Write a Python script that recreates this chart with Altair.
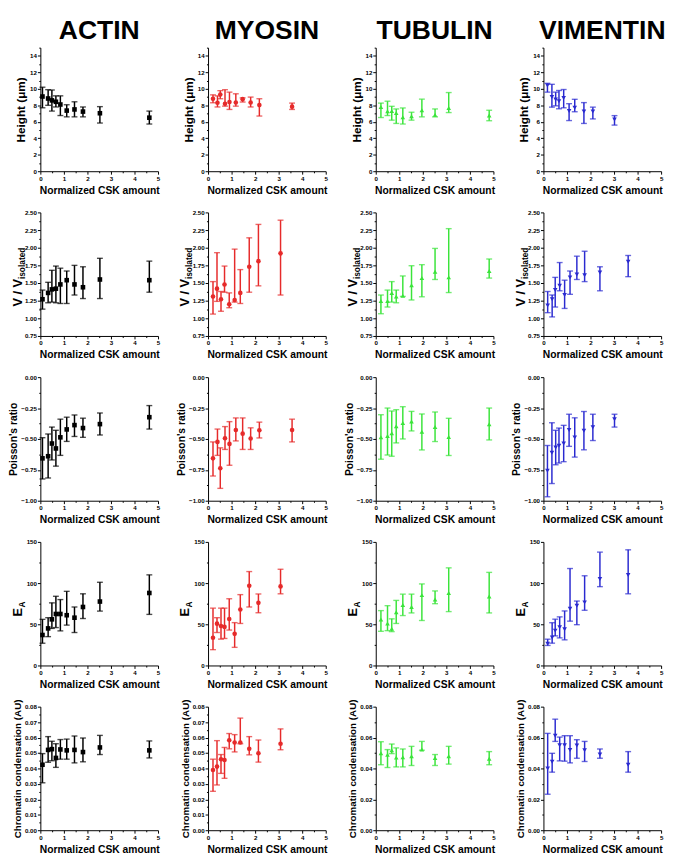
import altair as alt
import pandas as pd

# ---------------- data ----------------
PROTEINS = ["ACTIN", "MYOSIN", "TUBULIN", "VIMENTIN"]
COLORS = ["#000000", "#e62a2a", "#3ae43a", "#2a2ad0"]
SHAPES = ["square", "circle", "triangle-up", "triangle-down"]

ACTIN_X = [0.09, 0.33, 0.49, 0.66, 0.85, 1.12, 1.45, 1.81, 2.53, 4.63]
MYOSIN_X_A = [0.21, 0.40, 0.52, 0.72, 0.91, 1.18, 1.47, 1.81, 2.18, 3.57]
MYOSIN_X_B = [0.21, 0.38, 0.55, 0.70, 0.90, 1.13, 1.37, 1.75, 2.14, 3.08]
TUBULIN_X = [0.22, 0.50, 0.68, 0.87, 1.15, 1.52, 1.96, 2.52, 3.10, 4.82]
VIMENTIN_X_A = [0.17, 0.36, 0.52, 0.66, 0.86, 1.09, 1.33, 1.72, 2.10, 3.02]
VIMENTIN_X_B = [0.18, 0.37, 0.50, 0.69, 0.90, 1.13, 1.42, 1.75, 2.40, 3.60]

# Height (um)
ACTIN_HEIGHT = [9.07, 8.83, 8.60, 8.43, 8.10, 7.36, 7.50, 7.24, 7.04, 6.50]
ACTIN_HEIGHT_LO = [7.70, 8.00, 7.30, 7.80, 6.76, 6.60, 6.60, 6.60, 5.85, 5.73]
ACTIN_HEIGHT_HI = [10.20, 9.90, 9.86, 9.15, 9.15, 8.07, 8.43, 7.80, 7.84, 7.30]
MYOSIN_HEIGHT = [8.79, 8.31, 9.30, 8.20, 8.40, 8.35, 8.75, 8.35, 8.03, 7.84]
MYOSIN_HEIGHT_LO = [8.31, 7.80, 8.80, 7.90, 7.50, 7.90, 8.40, 7.80, 6.70, 7.50]
MYOSIN_HEIGHT_HI = [9.27, 9.15, 9.78, 9.90, 9.60, 9.40, 8.90, 9.00, 8.80, 8.27]
TUBULIN_HEIGHT = [7.80, 7.28, 7.32, 7.08, 6.56, 6.68, 7.40, 6.84, 7.68, 6.76]
TUBULIN_HEIGHT_LO = [6.52, 6.76, 6.20, 5.80, 5.73, 6.20, 6.60, 6.60, 7.12, 6.13]
TUBULIN_HEIGHT_HI = [8.27, 8.50, 7.88, 7.56, 7.68, 7.16, 8.75, 7.56, 9.55, 7.40]
VIMENTIN_HEIGHT = [10.40, 9.00, 8.70, 8.50, 8.90, 7.30, 7.70, 7.26, 7.26, 6.27]
VIMENTIN_HEIGHT_LO = [9.60, 7.78, 7.94, 7.58, 7.70, 6.15, 7.22, 5.80, 6.35, 5.60]
VIMENTIN_HEIGHT_HI = [10.67, 10.55, 9.60, 9.80, 9.92, 8.20, 8.73, 8.33, 7.78, 6.75]

# V / V isolated
ACTIN_V = [1.27, 1.36, 1.41, 1.42, 1.48, 1.54, 1.48, 1.44, 1.55, 1.54]
ACTIN_V_LO = [1.13, 1.22, 1.23, 1.22, 1.21, 1.21, 1.33, 1.28, 1.28, 1.37]
ACTIN_V_HI = [1.40, 1.51, 1.68, 1.74, 1.71, 1.67, 1.75, 1.73, 1.85, 1.81]
MYOSIN_V = [1.31, 1.42, 1.27, 1.48, 1.20, 1.26, 1.36, 1.73, 1.81, 1.92]
MYOSIN_V_LO = [1.06, 1.24, 1.10, 1.37, 1.15, 1.23, 1.21, 1.37, 1.46, 1.33]
MYOSIN_V_HI = [1.52, 1.93, 1.38, 1.74, 1.36, 1.98, 1.69, 2.14, 2.33, 2.39]
TUBULIN_V = [1.245, 1.245, 1.36, 1.31, 1.32, 1.47, 1.57, 1.66, 1.58, 1.67]
TUBULIN_V_LO = [1.065, 1.16, 1.23, 1.22, 1.31, 1.26, 1.305, 1.55, 1.365, 1.57]
TUBULIN_V_HI = [1.33, 1.40, 1.52, 1.40, 1.60, 1.745, 1.76, 1.99, 2.27, 1.84]
VIMENTIN_V = [1.18, 1.27, 1.40, 1.46, 1.33, 1.58, 1.62, 1.61, 1.65, 1.80]
VIMENTIN_V_LO = [1.08, 1.02, 1.16, 1.39, 1.14, 1.34, 1.55, 1.52, 1.39, 1.59]
VIMENTIN_V_HI = [1.38, 1.33, 1.58, 1.79, 1.54, 1.67, 1.88, 1.95, 1.73, 1.89]

# Poisson's ratio
ACTIN_POISSON = [-0.657, -0.640, -0.537, -0.577, -0.487, -0.423, -0.388, -0.412, -0.380, -0.324]
ACTIN_POISSON_LO = [-0.824, -0.816, -0.670, -0.720, -0.633, -0.520, -0.480, -0.487, -0.468, -0.420]
ACTIN_POISSON_HI = [-0.490, -0.460, -0.404, -0.430, -0.340, -0.324, -0.306, -0.332, -0.290, -0.230]
MYOSIN_POISSON = [-0.657, -0.524, -0.737, -0.495, -0.540, -0.428, -0.457, -0.497, -0.430, -0.428]
MYOSIN_POISSON_LO = [-0.800, -0.633, -0.900, -0.585, -0.713, -0.516, -0.585, -0.585, -0.492, -0.524]
MYOSIN_POISSON_HI = [-0.524, -0.420, -0.572, -0.400, -0.360, -0.330, -0.330, -0.410, -0.364, -0.340]
TUBULIN_POISSON = [-0.487, -0.476, -0.454, -0.398, -0.371, -0.358, -0.441, -0.403, -0.484, -0.382]
TUBULIN_POISSON_LO = [-0.664, -0.630, -0.640, -0.532, -0.500, -0.435, -0.589, -0.521, -0.634, -0.508]
TUBULIN_POISSON_HI = [-0.304, -0.250, -0.274, -0.263, -0.239, -0.277, -0.298, -0.282, -0.333, -0.250]
VIMENTIN_POISSON = [-0.757, -0.612, -0.570, -0.556, -0.537, -0.428, -0.489, -0.433, -0.406, -0.340]
VIMENTIN_POISSON_LO = [-0.968, -0.861, -0.709, -0.695, -0.684, -0.560, -0.647, -0.588, -0.513, -0.404]
VIMENTIN_POISSON_HI = [-0.553, -0.369, -0.430, -0.412, -0.390, -0.300, -0.329, -0.278, -0.300, -0.300]

# E_A
ACTIN_EA = [37.0, 45.0, 56.0, 62.5, 62.5, 61.0, 58.0, 71.0, 77.6, 88.0]
ACTIN_EA_LO = [27.0, 35.0, 45.0, 46.0, 42.0, 49.0, 40.0, 57.0, 66.0, 62.0]
ACTIN_EA_HI = [56.0, 58.0, 76.0, 84.0, 80.0, 90.0, 71.0, 87.0, 101.0, 110.0]
MYOSIN_EA = [33.6, 50.8, 48.0, 46.8, 56.4, 38.4, 68.0, 96.8, 76.0, 96.0]
MYOSIN_EA_LO = [19.2, 40.0, 32.0, 32.8, 43.0, 22.0, 51.0, 71.0, 64.0, 87.0]
MYOSIN_EA_HI = [69.6, 58.0, 69.6, 69.6, 81.0, 52.0, 86.0, 114.0, 86.8, 116.8]
TUBULIN_EA = [55.8, 51.0, 44.7, 64.6, 73.4, 71.0, 85.4, 80.2, 88.0, 83.8]
TUBULIN_EA_LO = [41.5, 42.3, 41.1, 51.0, 60.6, 63.8, 54.6, 75.0, 65.4, 63.8]
TUBULIN_EA_HI = [66.6, 72.6, 56.6, 79.0, 86.6, 86.6, 99.0, 90.5, 118.5, 113.0]
VIMENTIN_EA = [26.3, 33.9, 42.3, 46.3, 43.9, 69.0, 72.6, 76.6, 104.9, 109.7]
VIMENTIN_EA_LO = [24.3, 27.1, 35.9, 33.5, 31.1, 53.8, 49.5, 67.0, 95.7, 87.0]
VIMENTIN_EA_HI = [31.9, 51.9, 56.2, 59.0, 66.2, 117.7, 78.2, 108.9, 137.6, 140.4]

# Chromatin condensation (AU)
ACTIN_CHROM = [0.0424, 0.0520, 0.0525, 0.0468, 0.0523, 0.0517, 0.0520, 0.0506, 0.0536, 0.0517]
ACTIN_CHROM_LO = [0.0307, 0.0440, 0.0450, 0.0407, 0.0460, 0.0460, 0.0436, 0.0443, 0.0490, 0.0468]
ACTIN_CHROM_HI = [0.0496, 0.0606, 0.0576, 0.0560, 0.0587, 0.0590, 0.0610, 0.0597, 0.0614, 0.0578]
MYOSIN_CHROM = [0.0390, 0.0412, 0.0460, 0.0455, 0.0583, 0.0568, 0.0568, 0.0527, 0.0498, 0.0560]
MYOSIN_CHROM_LO = [0.0252, 0.0293, 0.0368, 0.0336, 0.0527, 0.0507, 0.0560, 0.0488, 0.0441, 0.0521]
MYOSIN_CHROM_HI = [0.0460, 0.0580, 0.0490, 0.0536, 0.0626, 0.0619, 0.0726, 0.0606, 0.0584, 0.0656]
TUBULIN_CHROM = [0.0498, 0.0488, 0.0518, 0.0470, 0.0473, 0.0479, 0.0522, 0.0468, 0.0479, 0.0462]
TUBULIN_CHROM_LO = [0.0424, 0.0406, 0.0496, 0.0410, 0.0410, 0.0419, 0.0518, 0.0419, 0.0428, 0.0424]
TUBULIN_CHROM_HI = [0.0573, 0.0522, 0.0558, 0.0533, 0.0526, 0.0543, 0.0575, 0.0490, 0.0543, 0.0509]
VIMENTIN_CHROM = [0.0400, 0.0443, 0.0612, 0.0550, 0.0550, 0.0520, 0.0548, 0.0518, 0.0490, 0.0424]
VIMENTIN_CHROM_LO = [0.0233, 0.0376, 0.0575, 0.0449, 0.0447, 0.0436, 0.0466, 0.0445, 0.0466, 0.0376]
VIMENTIN_CHROM_HI = [0.0627, 0.0498, 0.0719, 0.0603, 0.0612, 0.0612, 0.0586, 0.0575, 0.0526, 0.0509]

X_TITLE = "Normalized CSK amount"

# ---------------- layout / style ----------------
FONT = "Liberation Sans"
W, H = 120, 126


def ticks(lo, hi, step):
    n = int(round((hi - lo) / step))
    return [round(lo + i * step, 6) for i in range(n + 1)]


def is_major(step):
    return f"abs(datum.value/{step} - round(datum.value/{step})) < 0.001"


def make_axis(lo, hi, major, minor, fmt, title, title_size, title_pad=2):
    return alt.Axis(
        values=ticks(lo, hi, minor),
        labelExpr=f"{is_major(major)} ? format(datum.value, '{fmt}') : ''",
        tickSize={"condition": {"test": is_major(major), "value": 3}, "value": 1.6},
        labelOverlap=False,
        labelFlush=False,
        labelFont=FONT,
        labelFontSize=6.3,
        labelFontWeight="bold",
        labelPadding=1,
        title=title,
        titleFont=FONT,
        titleFontSize=title_size,
        titleFontWeight="bold",
        titlePadding=title_pad,
        grid=False,
    )


X_AXIS = make_axis(0, 5, 1, 0.5, "d", X_TITLE, 10.5, 4)

ROW_DEFS = [
    # key, domain, (major, minor) per column, format, title, title size
    ("HEIGHT", [0, 15], [(2, 1)] * 4, "d", "Height (μm)", 12),
    ("V", [0.75, 2.5], [(0.25, 0.125)] * 4, ".2f", "", 11),
    ("POISSON", [-1, 0], [(0.25, 0.125)] * 4, ".2f", "Poisson's ratio", 10.5),
    ("EA", [0, 150], [(50, 25)] * 4, "d", "", 11),
    ("CHROM", [0, 0.08], [(0.01, 0.005), (0.01, 0.005), (0.02, 0.01), (0.02, 0.01)],
     ".2f", "Chromatin condensation (AU)", 10),
]

X_SETS = {
    "ACTIN": {k: ACTIN_X for k in ["HEIGHT", "V", "POISSON", "EA", "CHROM"]},
    "MYOSIN": {"HEIGHT": MYOSIN_X_A, "POISSON": MYOSIN_X_A,
               "V": MYOSIN_X_B, "EA": MYOSIN_X_B, "CHROM": MYOSIN_X_B},
    "TUBULIN": {k: TUBULIN_X for k in ["HEIGHT", "V", "POISSON", "EA", "CHROM"]},
    "VIMENTIN": {"HEIGHT": VIMENTIN_X_A, "POISSON": VIMENTIN_X_A,
                 "V": VIMENTIN_X_B, "EA": VIMENTIN_X_B, "CHROM": VIMENTIN_X_B},
}


def text_layer(txt, x, y, size):
    return alt.Chart(pd.DataFrame({"t": [txt]})).mark_text(
        font=FONT, fontSize=size, fontWeight="bold", angle=270,
        align="left", baseline="alphabetic", color="black"
    ).encode(x=alt.value(x), y=alt.value(y), text="t:N")


def panel(ci, row):
    key, domain, steps, fmt, ytitle, ysize = row
    prot = PROTEINS[ci]
    g = globals()
    df = pd.DataFrame({
        "x": X_SETS[prot][key],
        "y": g[f"{prot}_{key}"],
        "lo": g[f"{prot}_{key}_LO"],
        "hi": g[f"{prot}_{key}_HI"],
    })
    major, minor = steps[ci]
    yaxis = make_axis(domain[0], domain[1], major, minor, fmt, ytitle, ysize)
    xs = alt.Scale(domain=[0, 5], nice=False, zero=False)
    ys = alt.Scale(domain=domain, nice=False, zero=False)
    color = COLORS[ci]
    base = alt.Chart(df)
    X = alt.X("x:Q", scale=xs, axis=X_AXIS)
    rule = base.mark_rule(color=color, strokeWidth=1.5).encode(
        x=X, y=alt.Y("lo:Q", scale=ys, axis=yaxis), y2="hi:Q")
    cap_lo = base.mark_tick(orient="horizontal", size=6, thickness=1.4, color=color).encode(
        x=X, y=alt.Y("lo:Q", scale=ys, axis=yaxis))
    cap_hi = base.mark_tick(orient="horizontal", size=6, thickness=1.4, color=color).encode(
        x=X, y=alt.Y("hi:Q", scale=ys, axis=yaxis))
    pts = base.mark_point(filled=True, shape=SHAPES[ci], size=22, opacity=1, color=color).encode(
        x=X, y=alt.Y("y:Q", scale=ys, axis=yaxis))
    layers = [rule, cap_lo, cap_hi, pts]
    if key == "V":
        layers += [text_layer("V / V", -19, 96, 13), text_layer("isolated", -16, 68, 8.5)]
    if key == "EA":
        layers += [text_layer("E", -19, 76, 13), text_layer("A", -16, 67, 8.5)]
    ch = alt.layer(*layers).properties(width=W, height=H)
    if key == "HEIGHT":
        ch = ch.properties(title=alt.TitleParams(
            text=prot, font=FONT, fontSize=27, fontWeight="bold", color="black",
            anchor="middle", frame="group", offset=0))
    return ch


panels = [panel(ci, row) for row in ROW_DEFS for ci in range(4)]

chart = alt.concat(
    *panels, columns=4, spacing={"row": 42, "column": 51}, bounds="flush"
).properties(
    padding={"left": 0, "top": 0, "right": 0, "bottom": 0}
).configure_view(stroke="transparent").configure_axis(
    domainColor="black", tickColor="black", labelColor="black", titleColor="black",
    domainWidth=1, tickWidth=1
)

chart.save("out.html", embed_options={"renderer": "svg", "actions": False})
